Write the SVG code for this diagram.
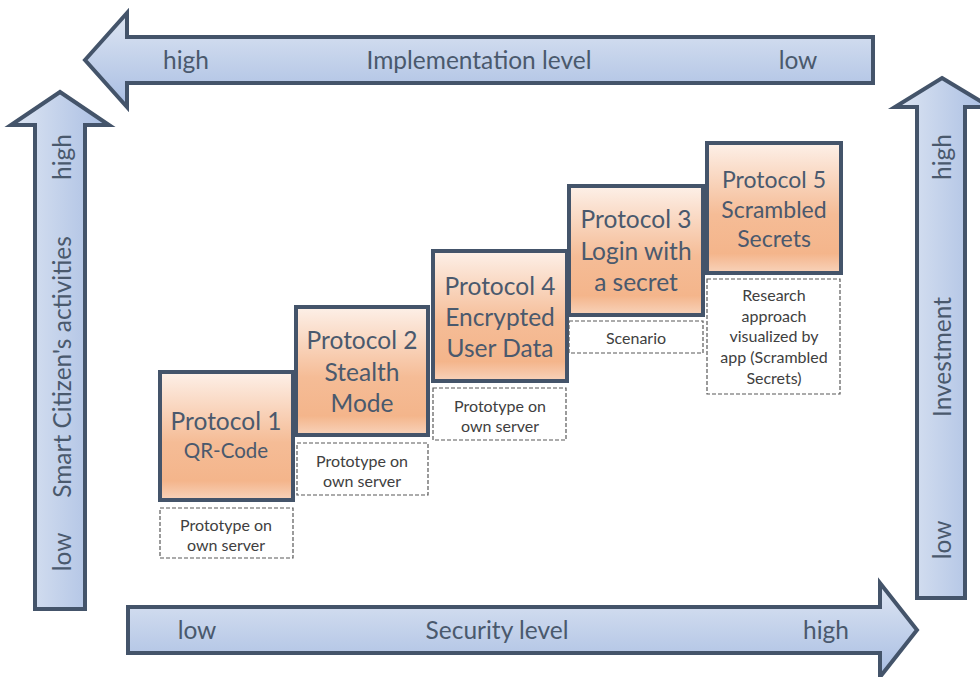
<svg xmlns="http://www.w3.org/2000/svg" width="980" height="677" viewBox="0 0 980 677">
<defs>
<linearGradient id="gH" x1="0" y1="0" x2="0" y2="1">
<stop offset="0" stop-color="#dee6f3"/>
<stop offset="1" stop-color="#a8bde2"/>
</linearGradient>
<linearGradient id="gV" x1="0" y1="0" x2="1" y2="0">
<stop offset="0" stop-color="#dee6f3"/>
<stop offset="1" stop-color="#a8bde2"/>
</linearGradient>
<linearGradient id="gO" x1="0" y1="0" x2="0" y2="1">
<stop offset="0" stop-color="#fdf0e8"/>
<stop offset="0.55" stop-color="#f5bc96"/>
<stop offset="0.85" stop-color="#f4b58b"/>
<stop offset="1" stop-color="#f8d3bb"/>
</linearGradient>
</defs>
<style>
.arr{stroke:#44546a;stroke-width:4;stroke-linejoin:miter}
.box{fill:url(#gO);stroke:#44546a;stroke-width:4}
.note{fill:#fff;stroke:#595959;stroke-width:1.2;stroke-dasharray:4 2}
text{font-family:Lato,"Open Sans","Liberation Sans",sans-serif;fill:#4a596d;text-anchor:middle}
.ax{font-size:24.5px}
.t{font-size:24.5px}
.t2{font-size:20.5px}
.t5{font-size:23px}
.n{font-size:16px;fill:#404040}
</style>
<rect width="980" height="677" fill="#fff"/>
<g id="axes">
<g id="impl-arrow">
<polygon class="arr" fill="url(#gH)" points="85,60 127,13 127,37 873,37 873,83 127,83 127,107"/>
<text class="ax" x="186" y="68.5">high</text>
<text class="ax" x="479" y="68.5">Implementation level</text>
<text class="ax" x="798" y="68.5">low</text>
</g>
<g id="security-arrow">
<polygon class="arr" fill="url(#gH)" points="128,607 880,607 880,583 917,630 880,677 880,653 128,653"/>
<text class="ax" x="197" y="639">low</text>
<text class="ax" x="497" y="639">Security level</text>
<text class="ax" x="826" y="639">high</text>
</g>
<g id="citizen-arrow">
<polygon class="arr" fill="url(#gV)" points="60,92 109,125 85,125 85,609 35,609 35,125 11,125"/>
<text class="ax" transform="translate(70.5,157) rotate(-90)">high</text>
<text class="ax" transform="translate(70.5,367) rotate(-90)">Smart Citizen's activities</text>
<text class="ax" transform="translate(70.5,552) rotate(-90)">low</text>
</g>
<g id="investment-arrow">
<polygon class="arr" fill="url(#gV)" points="942,78 990,107 965,107 965,598 917,598 917,107 895,107"/>
<text class="ax" transform="translate(950.5,157) rotate(-90)">high</text>
<text class="ax" transform="translate(950.5,357) rotate(-90)">Investment</text>
<text class="ax" transform="translate(950.5,540) rotate(-90)">low</text>
</g>
</g>
<g id="p1">
<rect class="box" x="160" y="372" width="133" height="128"/>
<text class="t" x="226" y="430">Protocol 1</text>
<text class="t2" x="226" y="458">QR-Code</text>
</g>
<g id="n1">
<rect class="note" x="160" y="508" width="133" height="50"/>
<text class="n" x="226" y="530.5">Prototype on</text>
<text class="n" x="226" y="550.5">own server</text>
</g>
<g id="p2">
<rect class="box" x="296" y="307" width="132" height="128"/>
<text class="t" x="362" y="348.5">Protocol 2</text>
<text class="t" x="362" y="380.5">Stealth</text>
<text class="t" x="362" y="411.5">Mode</text>
</g>
<g id="n2">
<rect class="note" x="297" y="443" width="131" height="52"/>
<text class="n" x="362" y="466.5">Prototype on</text>
<text class="n" x="362" y="486.5">own server</text>
</g>
<g id="p4">
<rect class="box" x="433" y="251" width="134" height="130"/>
<text class="t" x="500" y="294.5">Protocol 4</text>
<text class="t" x="500" y="325.5">Encrypted</text>
<text class="t" x="500" y="356.5">User Data</text>
</g>
<g id="n4">
<rect class="note" x="433" y="388" width="133" height="52"/>
<text class="n" x="500" y="411.5">Prototype on</text>
<text class="n" x="500" y="431.5">own server</text>
</g>
<g id="p3">
<rect class="box" x="569" y="186" width="134" height="129"/>
<text class="t" x="636" y="227.5">Protocol 3</text>
<text class="t" x="636" y="259.5">Login with</text>
<text class="t" x="636" y="290.5">a secret</text>
</g>
<g id="n3">
<rect class="note" x="569" y="321" width="134" height="32"/>
<text class="n" x="636" y="343.5">Scenario</text>
</g>
<g id="p5">
<rect class="box" x="707" y="143" width="134" height="130"/>
<text class="t5" x="774" y="188">Protocol 5</text>
<text class="t5" x="774" y="218">Scrambled</text>
<text class="t5" x="774" y="247">Secrets</text>
</g>
<g id="n5">
<rect class="note" x="707" y="279" width="133" height="115"/>
<text class="n" x="774" y="300.5">Research</text>
<text class="n" x="774" y="321.5">approach</text>
<text class="n" x="774" y="341.5">visualized by</text>
<text class="n" x="774" y="362.5">app (Scrambled</text>
<text class="n" x="774" y="383.5">Secrets)</text>
</g>
<g id="connectors"/>
</svg>
